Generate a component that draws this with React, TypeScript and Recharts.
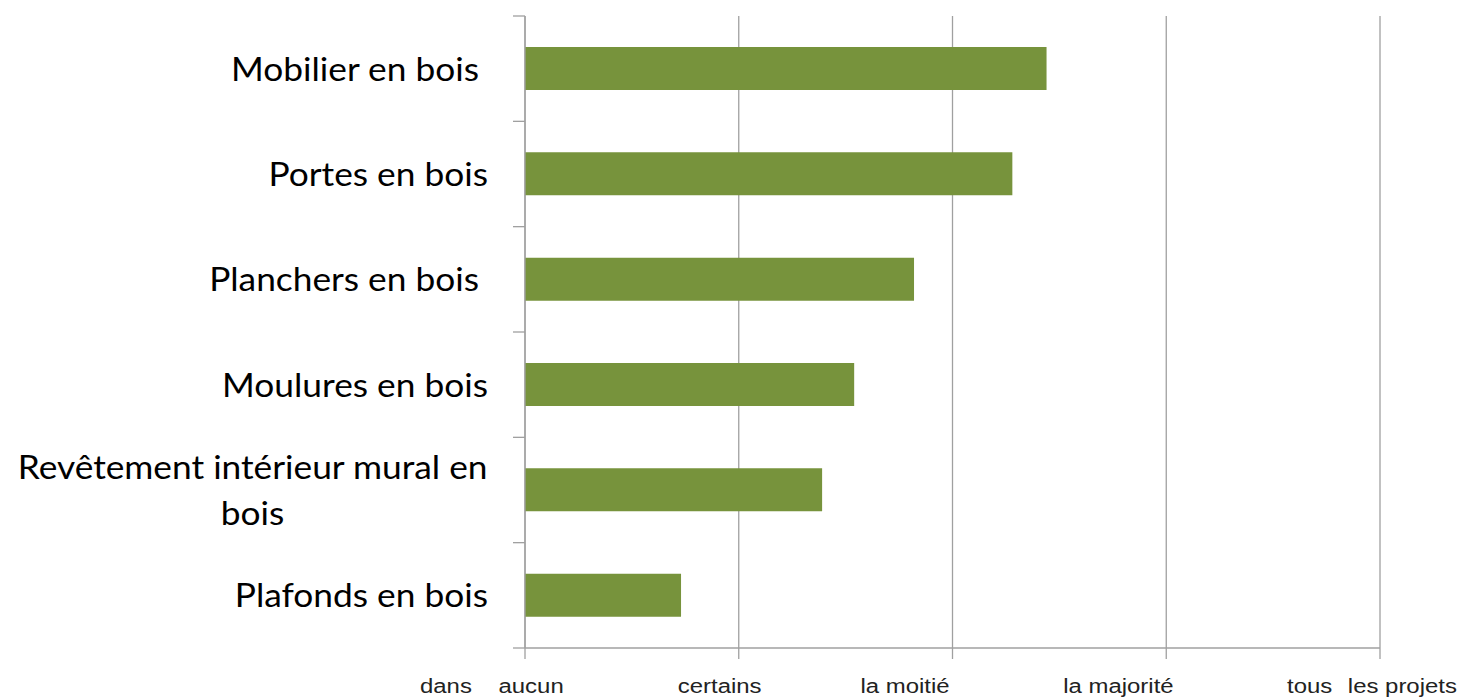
import React from "react";
import { BarChart, Bar, XAxis, YAxis, CartesianGrid } from "recharts";

const categories = [
  "Mobilier en bois ",
  "Portes en bois",
  "Planchers en bois ",
  "Moulures en bois",
  "Revêtement intérieur mural en bois",
  "Plafonds en bois",
];
const shareValues = [2.44, 2.28, 1.82, 1.54, 1.39, 0.73];
const levelLabels = ["dans aucun", "certains", "la moitié", "la majorité", "tous les projets"];
const levelTicks = [0, 1, 2, 3, 4];

// layout of the hand-placed x labels: left offset from the tick, extra gap after the first word
const levelLabelShift = [-105, -61, -92, -103, -93];
const levelWordGap = [20, 0, 0, 0, 9];

const W = 1466;
const H = 697;
const TOP = 16;
const BOTTOM = 648;
const AXIS_X = 525;
const BAND = (BOTTOM - TOP) / categories.length;
const GRID = "#a0a0a0";
const CAT_FONT = "Lato";
const CAT_SIZE = 33;
const CAT_STRETCH = 1.07;
const LINE_H = 46;

const data = categories.map((name, i) => ({ name, value: shareValues[i] }));

let ctx: CanvasRenderingContext2D | null = null;
function measure(s: string) {
  if (!ctx) ctx = document.createElement("canvas").getContext("2d");
  if (!ctx) return s.length * CAT_SIZE * 0.5;
  ctx.font = `${CAT_SIZE}px ${CAT_FONT}`;
  return ctx.measureText(s).width * CAT_STRETCH;
}

function wrap(label: string, max = 30) {
  if (label.length <= max) return [label];
  const lines: string[] = [];
  let cur = "";
  for (const w of label.split(" ")) {
    const next = cur ? cur + " " + w : w;
    if (next.length > max && cur) {
      lines.push(cur);
      cur = w;
    } else cur = next;
  }
  if (cur) lines.push(cur);
  return lines;
}

function CategoryTick(props: any) {
  const { y, payload, index } = props;
  const lines = wrap(payload.value);
  const right = 488;
  const textStyle: React.CSSProperties = {
    fontFamily: CAT_FONT,
    fontSize: CAT_SIZE,
    fill: "#000",
    whiteSpace: "pre",
  };
  const cap = CAT_SIZE * 0.36;
  return (
    <g>
      <line x1={AXIS_X - 12} x2={AXIS_X} y1={y - BAND / 2} y2={y - BAND / 2} stroke={GRID} strokeWidth={1.3} />
      {index === categories.length - 1 && (
        <line x1={AXIS_X - 12} x2={AXIS_X} y1={y + BAND / 2} y2={y + BAND / 2} stroke={GRID} strokeWidth={1.3} />
      )}
      {lines.length === 1 ? (
        <text
          transform={`translate(${right},${y + cap}) scale(${CAT_STRETCH},1)`}
          textAnchor="end"
          style={textStyle}
        >
          {lines[0]}
        </text>
      ) : (
        lines.map((ln, i) => {
          const w0 = measure(lines[0]);
          const cx = right - w0 / 2;
          const base = y - ((lines.length - 1) * LINE_H) / 2 + i * LINE_H + cap;
          return (
            <text
              key={i}
              transform={`translate(${cx},${base}) scale(${CAT_STRETCH},1)`}
              textAnchor="middle"
              style={textStyle}
            >
              {ln}
            </text>
          );
        })
      )}
    </g>
  );
}

function LevelTick(props: any) {
  const { x, index } = props;
  const label = levelLabels[index] ?? "";
  const sp = label.indexOf(" ");
  const first = sp >= 0 ? label.slice(0, sp) : label;
  const rest = sp >= 0 ? label.slice(sp) : "";
  return (
    <text
      transform={`translate(${x + levelLabelShift[index]},693) scale(1.14,1)`}
      textAnchor="start"
      style={{ fontFamily: "Liberation Sans, Arial", fontSize: 21, fill: "#222", whiteSpace: "pre" }}
    >
      <tspan>{first}</tspan>
      {rest && <tspan dx={levelWordGap[index] / 1.14}>{rest}</tspan>}
    </text>
  );
}

export default function App() {
  return (
    <div style={{ width: W, height: H, background: "#fff" }}>
      <style>{`body{margin:0}`}</style>
      <BarChart
        width={W}
        height={H}
        data={data}
        layout="vertical"
        margin={{ top: TOP, right: W - 1380, bottom: 0, left: 0 }}
      >
        <CartesianGrid horizontal={false} stroke={GRID} strokeWidth={1.3} />
        <XAxis
          type="number"
          domain={[0, 4]}
          ticks={levelTicks}
          interval={0}
          stroke={GRID}
          strokeWidth={1.3}
          tickSize={11}
          height={H - BOTTOM}
          tick={<LevelTick />}
        />
        <YAxis
          type="category"
          dataKey="name"
          width={AXIS_X}
          interval={0}
          stroke={GRID}
          strokeWidth={1.3}
          tickLine={false}
          tick={<CategoryTick />}
        />
        <Bar dataKey="value" fill="#77933c" barSize={43} isAnimationActive={false} />
      </BarChart>
    </div>
  );
}
